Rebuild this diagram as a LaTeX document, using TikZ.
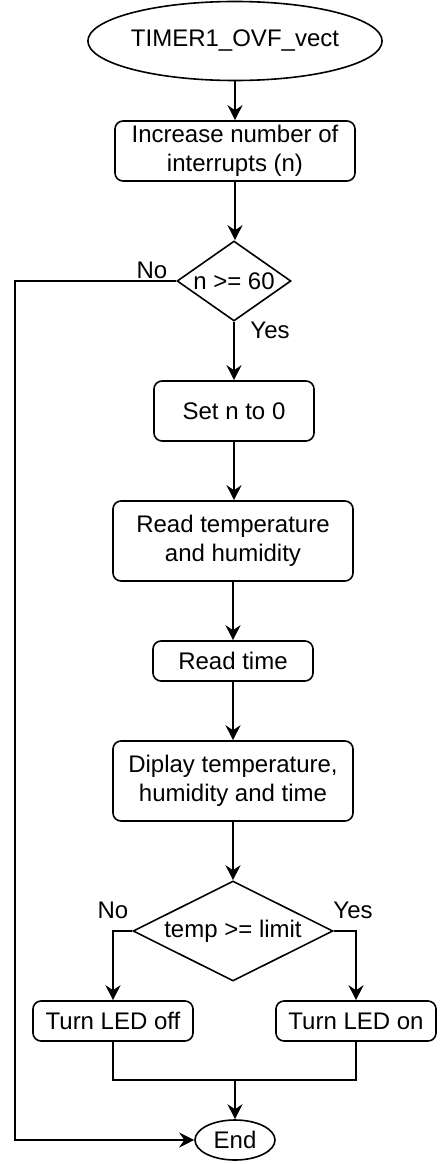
\documentclass[tikz,border=0pt]{standalone}
\usepackage{fontspec}
\setmainfont{Liberation Sans}
\usetikzlibrary{shapes.geometric,arrows.meta}
\begin{document}
\begin{tikzpicture}[x=1pt,y=-1pt,
  every node/.style={font=\fontsize{24}{29}\selectfont},
  box/.style={draw,line width=1.6pt,rounded corners=8pt,inner sep=0pt,align=center},
  oval/.style={draw,line width=1.6pt,ellipse,inner sep=0pt},
  dia/.style={draw,line width=1.6pt,diamond,inner sep=0pt},
  lbl/.style={inner sep=0pt},
  conn/.style={line width=1.6pt,-{Stealth[length=15pt,width=15pt,inset=5pt]}},
  line/.style={line width=1.6pt}]
\useasboundingbox (0,0) rectangle (440,1164);
\node[oval,minimum width=240,minimum height=79] (start) at (235,41) {TIMER1\_OVF\_vect};
\node[box,minimum width=240,minimum height=60] (inc) at (235,151) {Increase number of\\interrupts (n)};
\node[dia,minimum width=114,minimum height=80] (d1) at (234,281) {\makebox[0pt]{n >= 60}};
\node[box,minimum width=160,minimum height=60] (set) at (234,411) {Set n to 0};
\node[box,minimum width=240,minimum height=80] (rth) at (233,541) {Read temperature\\and humidity};
\node[box,minimum width=160,minimum height=40] (rt) at (233,661) {Read time};
\node[box,minimum width=240,minimum height=80] (disp) at (233,781) {Diplay temperature,\\humidity and time};
\node[dia,minimum width=200,minimum height=100] (d2) at (233,931) {\makebox[0pt]{temp >= limit}};
\node[box,minimum width=160,minimum height=40] (off) at (113,1021) {Turn LED off};
\node[box,minimum width=160,minimum height=40] (on) at (356,1021) {Turn LED on};
\node[oval,minimum width=80,minimum height=40] (end) at (235,1140) {End};
\node[lbl] (no1) at (152,270) {No};
\node[lbl] (yes1) at (270,330) {Yes};
\node[lbl] (no2) at (113,910) {No};
\node[lbl] (yes2) at (353,910) {Yes};
\coordinate (lft) at (15,281);
\coordinate (merge) at (235,1080);
\draw[conn] (start.south) -- (inc.north);
\draw[conn] (inc.south) -- (inc.south |- d1.north);
\draw[conn] (d1.south) -- (d1.south |- set.north);
\draw[conn] (set.south) -- (set.south |- rth.north);
\draw[conn] (rth.south) -- (rt.north);
\draw[conn] (rt.south) -- (disp.north);
\draw[conn] (disp.south) -- (d2.north);
\draw[conn] (d1.west) -- (lft) |- (end.west);
\draw[conn] (d2.west) -| (off.north);
\draw[conn] (d2.east) -| (on.north);
\draw[line] (off.south) |- (merge);
\draw[line] (on.south) |- (merge);
\draw[conn] (merge) -- (end.north);
\end{tikzpicture}
\end{document}
